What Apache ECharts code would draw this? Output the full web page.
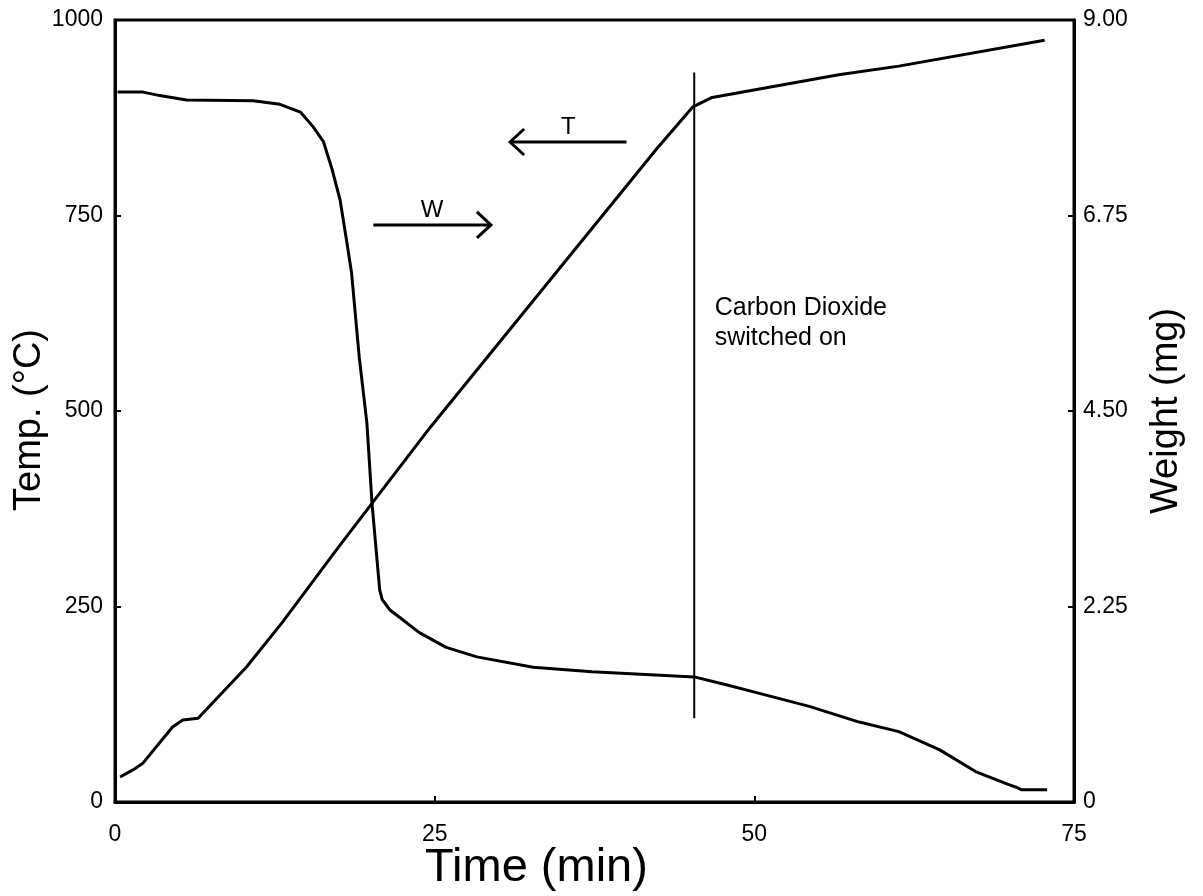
<!DOCTYPE html>
<html><head><meta charset="utf-8">
<script src="https://cdn.jsdelivr.net/npm/echarts@6/dist/echarts.min.js"></script>
<style>html,body{margin:0;padding:0;background:#fff}#c{width:1203px;height:896px}</style>
</head><body><div id="c"></div>
<script>
// Axis ticks
const timeTicks = [0, 25, 50, 75];
const tempTicks = [0, 250, 500, 750, 1000];
const weightTicks = ['0', '2.25', '4.50', '6.75', '9.00'];

// Temperature curve (left axis, °C)
const tempTime   = [0.4, 1.4, 2.2, 4.5, 5.3, 6.5, 10.3, 13.1, 17.3, 24.6, 42.4, 45.2, 46.7, 56.6, 61.3, 72.7];
const tempValues = [32, 41, 50, 96, 105, 107, 173, 230, 322, 478, 836, 889, 901, 930, 941, 974];

// Weight curve (right axis, mg)
const weightTime   = [0.2, 2.2, 3.5, 5.6, 10.8, 12.9, 14.5, 15.5, 16.3, 17.0, 17.6, 18.1, 18.5, 19.1, 19.7, 20.1, 20.7, 20.9, 21.5, 22.3, 23.8, 25.9, 28.3, 32.7, 37.3, 45.3, 47.8, 50.4, 54.3, 58.2, 61.3, 64.5, 67.3, 69.9, 70.5, 70.9, 72.9];
const weightValues = [8.17, 8.17, 8.13, 8.08, 8.07, 8.03, 7.94, 7.77, 7.60, 7.27, 6.93, 6.47, 6.09, 5.12, 4.36, 3.44, 2.44, 2.33, 2.21, 2.12, 1.95, 1.78, 1.67, 1.55, 1.50, 1.44, 1.35, 1.25, 1.10, 0.92, 0.81, 0.60, 0.35, 0.20, 0.17, 0.14, 0.14];

// CO2 switch-on marker (vertical line, in time / °C)
const co2Time = [45.3, 45.3];
const co2Temp = [107, 933];
const co2Text = 'Carbon Dioxide\nswitched on';
const co2TextPos = [46.9, 613];

// Direction arrows
const arrowLabels    = ['T', 'W'];
const arrowStartTime = [40.0, 20.2];
const arrowEndTime   = [30.9, 29.4];
const arrowTemp      = [844, 738];

const FONT = 'Liberation Sans, Arial, Helvetica, sans-serif';
const chart = echarts.init(document.getElementById('c'));

const axisLineStyle = {color: '#000', width: 3};
const tickStyle = {show: true, inside: true, length: 6, lineStyle: {color: '#000', width: 2}};

chart.setOption({
  backgroundColor: '#fff',
  animation: false,
  grid: {left: 115, right: 129, top: 20, bottom: 94, containLabel: false, outerBoundsMode: 'none',
    show: true, borderColor: '#000', borderWidth: 3, backgroundColor: 'transparent'},
  xAxis: {
    type: 'value', min: timeTicks[0], max: timeTicks[timeTicks.length - 1], interval: 25,
    name: 'Time (min)', nameLocation: 'middle', nameGap: 43, nameMoveOverlap: false,
    nameTextStyle: {fontFamily: FONT, fontSize: 47, color: '#000', padding: [0, 116, 0, 0]},
    axisLine: {show: true, lineStyle: axisLineStyle},
    axisTick: tickStyle,
    splitLine: {show: false},
    axisLabel: {fontFamily: FONT, fontSize: 23, color: '#000', margin: 21}
  },
  yAxis: [{
    type: 'value', min: 0, max: 1000, interval: 250, position: 'left',
    name: 'Temp. (°C)', nameLocation: 'middle', nameGap: 66, nameRotate: 90, nameMoveOverlap: false,
    nameTextStyle: {fontFamily: FONT, fontSize: 38, color: '#000', padding: [0, 18, 0, 0]},
    axisLine: {show: true, lineStyle: axisLineStyle},
    axisTick: tickStyle,
    splitLine: {show: false},
    axisLabel: {fontFamily: FONT, fontSize: 23, color: '#000', margin: 12,
      formatter: v => String(tempTicks[Math.round(v / 250)])}
  }, {
    type: 'value', min: 0, max: 9, interval: 2.25, position: 'right',
    name: 'Weight (mg)', nameLocation: 'middle', nameGap: 74, nameRotate: 90, nameMoveOverlap: false,
    nameTextStyle: {fontFamily: FONT, fontSize: 38, color: '#000'},
    axisLine: {show: true, lineStyle: axisLineStyle},
    axisTick: tickStyle,
    splitLine: {show: false},
    axisLabel: {fontFamily: FONT, fontSize: 23, color: '#000', margin: 9,
      formatter: v => weightTicks[Math.round(v / 2.25)]}
  }],
  series: [
    {
      name: 'T', type: 'line', yAxisIndex: 0, symbol: 'none',
      lineStyle: {color: '#000', width: 3},
      data: tempTime.map((t, i) => [t, tempValues[i]])
    },
    {
      name: 'W', type: 'line', yAxisIndex: 1, symbol: 'none',
      lineStyle: {color: '#000', width: 3},
      data: weightTime.map((t, i) => [t, weightValues[i]])
    },
    {
      name: 'CO2', type: 'line', yAxisIndex: 0, symbol: 'none',
      lineStyle: {color: '#000', width: 2},
      data: co2Time.map((t, i) => [t, co2Temp[i]])
    },
    {
      name: 'arrows', type: 'custom', xAxisIndex: 0, yAxisIndex: 0,
      encode: {x: [0, 1], y: 2},
      data: arrowLabels.map((l, i) => [arrowStartTime[i], arrowEndTime[i], arrowTemp[i], i]),
      renderItem: function (params, api) {
        const s = api.coord([api.value(0), api.value(2)]);
        const e = api.coord([api.value(1), api.value(2)]);
        const dir = e[0] > s[0] ? 1 : -1;
        const label = arrowLabels[api.value(3)];
        return {
          type: 'group',
          children: [
            {type: 'line', shape: {x1: s[0], y1: s[1], x2: e[0], y2: e[1]}, style: {stroke: '#000', lineWidth: 3}},
            {type: 'polyline', shape: {points: [[e[0] - dir * 14, e[1] - 13], [e[0], e[1]], [e[0] - dir * 14, e[1] + 13]]},
              style: {stroke: '#000', lineWidth: 3, fill: null}},
            {type: 'text', style: {text: label, x: (s[0] + e[0]) / 2, y: s[1] - 3, align: 'center', verticalAlign: 'bottom',
              font: '24px ' + FONT, fill: '#000'}}
          ]
        };
      }
    },
    {
      name: 'co2text', type: 'custom', xAxisIndex: 0, yAxisIndex: 0,
      data: [[co2TextPos[0], co2TextPos[1]]],
      renderItem: function (params, api) {
        const p = api.coord([api.value(0), api.value(1)]);
        return {type: 'text', style: {text: co2Text, x: p[0], y: p[1], align: 'left', verticalAlign: 'middle',
          font: '25px ' + FONT, lineHeight: 30, fill: '#000'}};
      }
    }
  ]
});
</script>
</body></html>
